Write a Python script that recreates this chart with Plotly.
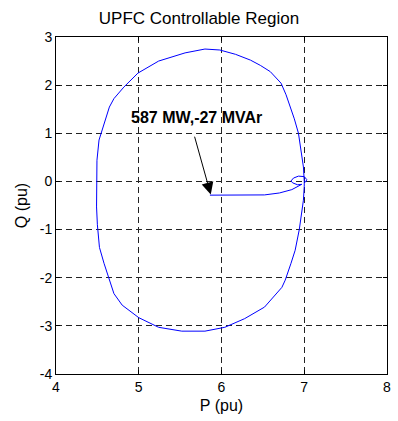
import plotly.graph_objects as go

# Trajectory: operating point -> boundary, small loop, then controllable-region boundary
P = [5.86, 6.2, 6.52, 6.7, 6.85, 6.97, 6.92, 6.86, 6.84, 6.87, 6.93, 7.0, 7.03, 7.02, 7.0,
     6.99, 6.96, 6.93, 6.88, 6.83, 6.78, 6.72, 6.59, 6.47, 6.35, 6.17, 5.98, 5.80, 5.56,
     5.24, 4.99, 4.82, 4.70, 4.645, 4.60, 4.545, 4.52, 4.495, 4.49, 4.49, 4.50, 4.525,
     4.58, 4.645, 4.70, 4.80, 5.0, 5.24, 5.52, 5.80, 6.04, 6.28, 6.52, 6.73, 6.77, 6.84,
     6.89, 6.94, 6.97, 6.99, 7.0, 7.0]
Q = [-0.285, -0.285, -0.28, -0.24, -0.17, -0.06, -0.07, -0.03, 0.01, 0.07, 0.11, 0.10, 0.04, -0.01, 0.0,
     0.3, 0.7, 1.0, 1.3, 1.55, 1.8, 2.04, 2.28, 2.41, 2.52, 2.64, 2.73, 2.75, 2.67,
     2.50, 2.25, 1.96, 1.72, 1.545, 1.3, 1.0, 0.86, 0.44, -0.03, -0.53, -0.9, -1.37,
     -1.7, -2.03, -2.33, -2.57, -2.83, -3.03, -3.11, -3.11, -3.03, -2.85, -2.61, -2.2, -2.05, -1.7,
     -1.43, -1.0, -0.6, -0.39, -0.1, 0.0]

x_ticks = [4, 5, 6, 7, 8]
x_ticktext = ["4", "5", "6", "7", "8"]
y_ticks = [-4, -3, -2, -1, 0, 1, 2, 3]
y_ticktext = ["-4", "-3", "-2", "-1", "0", "1", "2", "3"]
op_label = "587 MW,-27 MVAr"
op_point = (5.87, -0.27)
arrow_tail = (5.67, 0.96)
label_pos = (5.695, 1.32)

FONT = "Arial, Liberation Sans"

fig = go.Figure()
fig.add_trace(go.Scatter(x=P, y=Q, mode="lines", line=dict(color="#0000ff", width=1),
                         showlegend=False, hoverinfo="skip"))

fig.add_annotation(x=op_point[0], y=op_point[1], ax=arrow_tail[0], ay=arrow_tail[1],
                   axref="x", ayref="y", xref="x", yref="y", text="", showarrow=True,
                   arrowhead=2, arrowsize=2.4, arrowwidth=1, arrowcolor="black")
fig.add_annotation(x=label_pos[0], y=label_pos[1], xref="x", yref="y", text="<b>%s</b>" % op_label,
                   showarrow=False, font=dict(family=FONT, size=16, color="black"))

axis_common = dict(showline=True, linecolor="black", linewidth=1, mirror="ticks",
                   ticks="inside", ticklen=4, tickcolor="black", showgrid=True,
                   gridcolor="#222222", gridwidth=1, griddash="6px,4px", zeroline=False,
                   tickfont=dict(family=FONT, size=14, color="black"))

fig.update_layout(
    width=398, height=421,
    margin=dict(l=56, r=7, t=37, b=47),
    paper_bgcolor="white", plot_bgcolor="white",
    title=dict(text="UPFC Controllable Region", x=0.5, xanchor="center", y=1 - 18/421, yanchor="middle",
               font=dict(family=FONT, size=17, color="black")),
    xaxis=dict(range=[4, 8], tickvals=x_ticks, ticktext=x_ticktext, title=dict(text="P (pu)", standoff=6,
               font=dict(family=FONT, size=16, color="black")), **axis_common),
    yaxis=dict(range=[-4, 3], tickvals=y_ticks, ticktext=y_ticktext, title=dict(text="Q (pu)", standoff=8,
               font=dict(family=FONT, size=16, color="black")), **axis_common),
)

fig.write_html("out.html")
